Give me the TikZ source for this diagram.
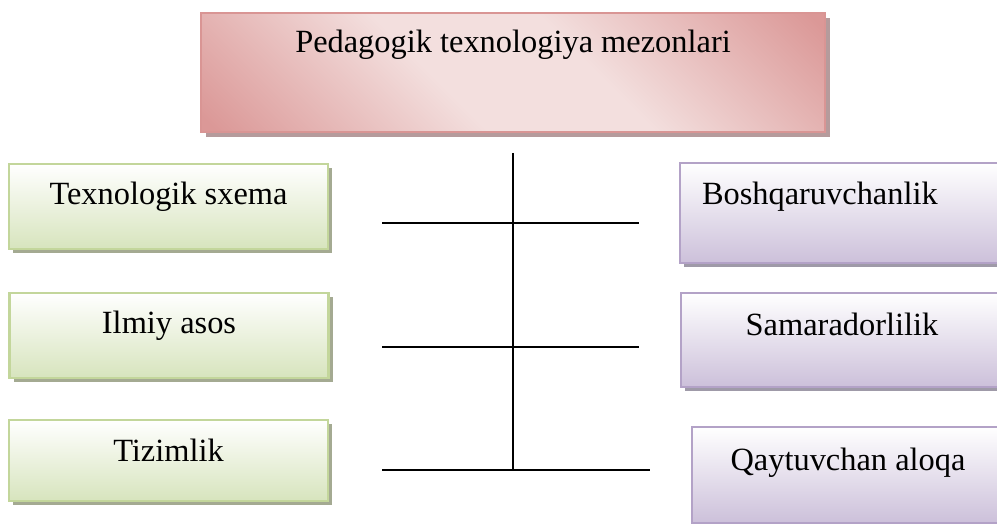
\documentclass[tikz,border=0pt]{standalone}
\usepackage{fontspec}
\setmainfont{Liberation Serif}
\usetikzlibrary{shadows}

\definecolor{pinkline}{HTML}{D99594}
\definecolor{pinkdark}{HTML}{DB9897}
\definecolor{pinklight}{HTML}{F3DFDE}
\definecolor{pinkshadow}{HTML}{B59B9C}
\definecolor{greenline}{HTML}{C3D69B}
\definecolor{greenfill}{HTML}{D7E4BD}
\definecolor{greenshadow}{HTML}{A4AA92}
\definecolor{purpleline}{HTML}{B3A2C7}
\definecolor{purplefill}{HTML}{CCC0DA}
\definecolor{purpleshadow}{HTML}{9F9AA8}

\pgfdeclareverticalshading{pinkridge}{100bp}{color(0bp)=(pinkdark); color(16bp)=(pinkdark); color(42bp)=(pinklight); color(58bp)=(pinklight); color(84bp)=(pinkdark); color(100bp)=(pinkdark)}

\begin{document}
\begin{tikzpicture}[x=0.75pt,y=-0.75pt,
    every node/.style={font=\fontsize{24.3}{29}\selectfont,inner sep=0pt},
    headbox/.style={draw=pinkline,line width=1.8pt,shading=pinkridge,shading angle=-45,
      minimum width=468pt,text height=30pt,text depth=59.25pt,
      drop shadow={shadow xshift=3.5pt,shadow yshift=-3.5pt,fill=pinkshadow,opacity=1}},
    greenbox/.style={draw=greenline,line width=2pt,top color=white,middle color=greenfill!35!white,bottom color=greenfill,
      minimum width=239.25pt,text height=30.75pt,text depth=33pt,
      drop shadow={shadow xshift=3pt,shadow yshift=-3pt,fill=greenshadow,opacity=1}},
    purplebox/.style={draw=purpleline,line width=1.6pt,top color=white,middle color=purplefill!35!white,bottom color=purplefill,
      minimum width=241.5pt,text height=31.5pt,text depth=39pt,
      drop shadow={shadow xshift=3pt,shadow yshift=-3pt,fill=purpleshadow,opacity=1}},
    tick/.style={line width=1.4pt}]
  \useasboundingbox[fill=white] (0,0) rectangle (997,524);
  % sarlavha
  \node[headbox] (M) at (513,72.5) {Pedagogik texnologiya mezonlari};
  % chap ustun
  \node[greenbox] (T1) at (168.5,206.5) {Texnologik sxema};
  \node[greenbox] (T2) at (169,335.5) {Ilmiy asos};
  \node[greenbox,text depth=30pt] (T3) at (168.5,460.5) {Tizimlik};
  % o'ng ustun
  \node[purplebox,text width=209.25pt,inner xsep=16.5pt,align=left,text depth=43.5pt] (B1) at (841.5,213) {Boshqaruvchanlik};
  \node[purplebox] (B2) at (842,340) {Samaradorlilik};
  \node[purplebox,minimum width=234pt,text height=32.25pt,text depth=39.75pt] (B3) at (848,475) {Qaytuvchan aloqa};
  %%
  \coordinate (top) at (513,153);
  \coordinate (bot) at (513,470);
  \coordinate (L1) at (382,223);
  \coordinate (R1) at (639,223);
  \coordinate (L2) at (382,347);
  \coordinate (R2) at (639,347);
  \coordinate (L3) at (382,470);
  \coordinate (R3) at (650,470);
  \draw[tick] (top)--(bot);
  \draw[tick] (L1)--(R1);
  \draw[tick] (L2)--(R2);
  \draw[tick] (L3)--(R3);
\end{tikzpicture}
\end{document}
